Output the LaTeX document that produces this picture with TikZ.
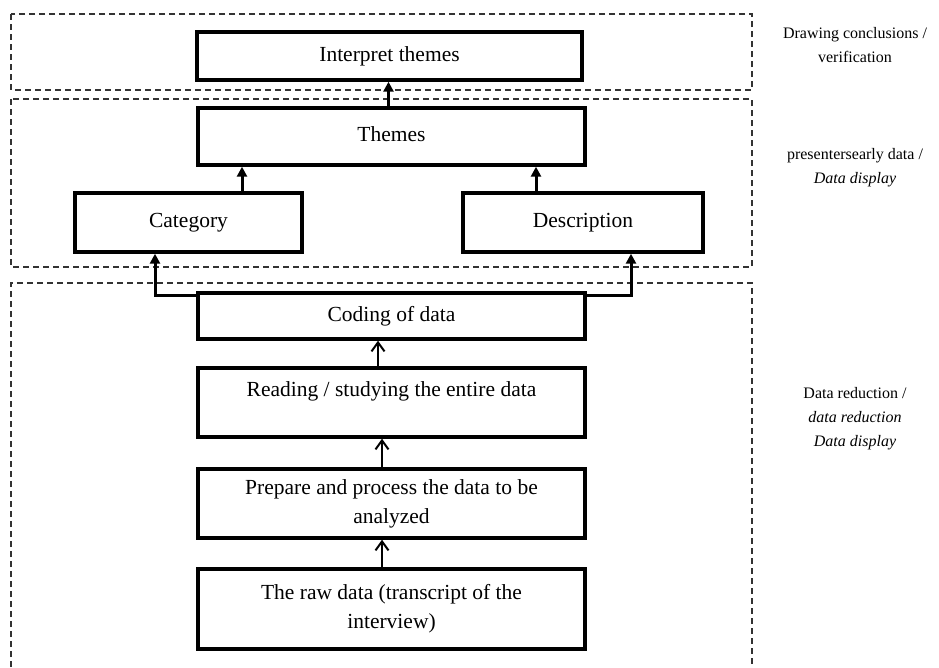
\documentclass[tikz,border=0pt]{standalone}
\usepackage{fontspec}
\setmainfont{Liberation Serif}
\usetikzlibrary{arrows.meta,calc}
\tikzset{
  flowbox/.style={draw=black, line width=3.4pt, inner sep=0pt, align=center,
    font=\fontsize{21.5}{29}\selectfont},
  dashframe/.style={draw=black!80, line width=1.5pt, dash pattern=on 6pt off 4pt},
  arrfill/.style={line width=3pt, -{Triangle[length=10pt,width=10pt]}},
  arropen/.style={line width=2pt, -{Straight Barb[length=9pt,width=13pt,line width=2pt]}},
  sidelabel/.style={align=center, font=\fontsize{16}{24}\selectfont, inner sep=0pt}
}
\begin{document}
\begin{tikzpicture}[x=1pt,y=-1pt]
\useasboundingbox (0,0) rectangle (939,667);
\fill[white] (0,0) rectangle (939,667);

% dashed frames
\draw[dashframe] (11,14) rectangle (752,90);
\draw[dashframe] (11,99) rectangle (752,267);
\draw[dashframe] (11,667) -- (11,283) -- (752,283) -- (752,667);

% boxes
\node[flowbox, minimum width=385pt, minimum height=48pt] (interp) at (389.5,56) {Interpret themes};
\node[flowbox, minimum width=387pt, minimum height=57pt] (themes) at (391.5,136.5) {\raisebox{5pt}{Themes}};
\node[flowbox, minimum width=227pt, minimum height=59pt] (cat) at (188.5,222.5) {Category};
\node[flowbox, minimum width=240pt, minimum height=59pt] (desc) at (583,222.5) {Description};
\node[flowbox, minimum width=387pt, minimum height=46pt] (coding) at (391.5,316) {Coding of data};
\node[flowbox, minimum width=387pt, minimum height=69pt] (reading) at (391.5,402.5) {\raisebox{-3pt}{Reading / studying the entire data}\\~};
\node[flowbox, minimum width=387pt, minimum height=69pt] (prepare) at (391.5,503.5) {Prepare and process the data to be\\analyzed};
\node[flowbox, minimum width=387pt, minimum height=80pt] (raw) at (391.5,609) {The raw data (transcript of the\\interview)};

% upper arrows
\draw[arrfill] ([xshift=-3pt]themes.north) -- ([xshift=-3pt]themes.north |- interp.south);
\draw[arrfill] ([xshift=53.5pt]cat.north) -- ([xshift=53.5pt]cat.north |- themes.south);
\draw[arrfill] ([xshift=-47pt]desc.north) -- ([xshift=-47pt]desc.north |- themes.south);
\draw[arrfill] ([yshift=-4pt]coding.north west) -| ([xshift=-33.5pt]cat.south);
\draw[arrfill] ([yshift=-4pt]coding.north east) -| ([xshift=48pt]desc.south);

% lower arrows
\draw[arropen] ([xshift=-13.5pt]reading.north) -- ([xshift=-13.5pt]reading.north |- coding.south);
\draw[arropen] ([xshift=-9.5pt]prepare.north) -- ([xshift=-9.5pt]prepare.north |- reading.south);
\draw[arropen] ([xshift=-9.5pt]raw.north) -- ([xshift=-9.5pt]raw.north |- prepare.south);

% side labels
\node[sidelabel] (lab1) at (855,45) {Drawing conclusions /\\verification};
\node[sidelabel] (lab2) at (855,168) {presentersearly data /\\\textit{Data display}};
\node[sidelabel] (lab3) at (855,419) {Data reduction /\\\textit{data reduction}\\\textit{Data display}};
\end{tikzpicture}
\end{document}
